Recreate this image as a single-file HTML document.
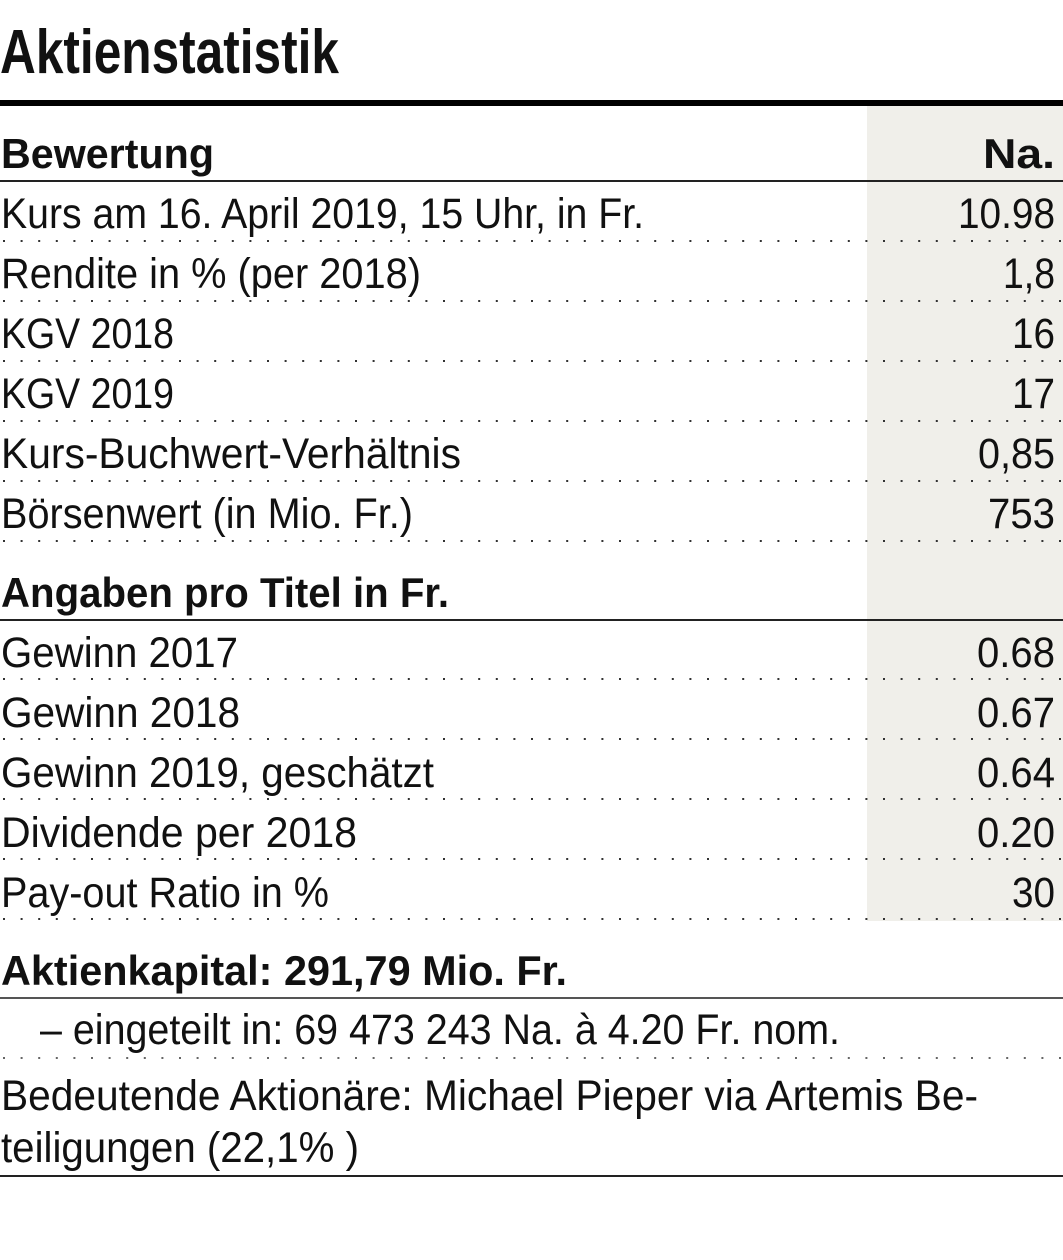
<!DOCTYPE html>
<html>
<head>
<meta charset="utf-8">
<style>
  html, body { margin: 0; padding: 0; background: #ffffff; }
  svg { display: block; }
  text { font-family: "Liberation Sans", "DejaVu Sans", sans-serif; fill: #111; }
  .r { font-size: 43px; }
  .b { font-size: 42px; font-weight: bold; }
</style>
</head>
<body>
<svg width="1063" height="1260" viewBox="0 0 1063 1260" xmlns="http://www.w3.org/2000/svg">
  <rect x="0" y="0" width="1063" height="1260" fill="#ffffff"/>
  <!-- gray value column -->
  <rect x="867" y="106" width="196" height="815" fill="#f0efea"/>

  <!-- title -->
  <text x="0" y="73" style="font-size:62px;font-weight:bold" textLength="339" lengthAdjust="spacingAndGlyphs">Aktienstatistik</text>
  <rect x="0" y="100" width="1063" height="6" fill="#000"/>

  <!-- Bewertung header -->
  <text class="b" x="1" y="168" textLength="213" lengthAdjust="spacingAndGlyphs">Bewertung</text>
  <text class="b" x="983" y="168" textLength="72" lengthAdjust="spacingAndGlyphs">Na.</text>
  <rect x="0" y="180" width="1063" height="2" fill="#222"/>

  <!-- rows section 1 -->
  <text class="r" x="1" y="228" textLength="643" lengthAdjust="spacingAndGlyphs">Kurs am 16. April 2019, 15 Uhr, in Fr.</text>
  <text class="r" x="958" y="228" textLength="97" lengthAdjust="spacingAndGlyphs">10.98</text>

  <text class="r" x="1" y="288" textLength="420" lengthAdjust="spacingAndGlyphs">Rendite in % (per 2018)</text>
  <text class="r" x="1003" y="288" textLength="52" lengthAdjust="spacingAndGlyphs">1,8</text>

  <text class="r" x="1" y="348" textLength="173" lengthAdjust="spacingAndGlyphs">KGV 2018</text>
  <text class="r" x="1012" y="348" textLength="43" lengthAdjust="spacingAndGlyphs">16</text>

  <text class="r" x="1" y="408" textLength="173" lengthAdjust="spacingAndGlyphs">KGV 2019</text>
  <text class="r" x="1012" y="408" textLength="43" lengthAdjust="spacingAndGlyphs">17</text>

  <text class="r" x="1" y="468" textLength="460" lengthAdjust="spacingAndGlyphs">Kurs-Buchwert-Verhältnis</text>
  <text class="r" x="978" y="468" textLength="77" lengthAdjust="spacingAndGlyphs">0,85</text>

  <text class="r" x="1" y="528" textLength="412" lengthAdjust="spacingAndGlyphs">Börsenwert (in Mio. Fr.)</text>
  <text class="r" x="988" y="528" textLength="67" lengthAdjust="spacingAndGlyphs">753</text>

  <!-- dotted separators section 1 -->
  <g stroke="#333" stroke-width="2" stroke-dasharray="2 15.6">
    <line x1="3" y1="241" x2="1063" y2="241"/>
    <line x1="3" y1="301" x2="1063" y2="301"/>
    <line x1="3" y1="361" x2="1063" y2="361"/>
    <line x1="3" y1="421" x2="1063" y2="421"/>
    <line x1="3" y1="481" x2="1063" y2="481"/>
    <line x1="3" y1="541" x2="1063" y2="541"/>
  </g>

  <!-- Angaben header -->
  <text class="b" x="1" y="607" textLength="448" lengthAdjust="spacingAndGlyphs">Angaben pro Titel in Fr.</text>
  <rect x="0" y="619" width="1063" height="2" fill="#222"/>

  <text class="r" x="1" y="667" textLength="237" lengthAdjust="spacingAndGlyphs">Gewinn 2017</text>
  <text class="r" x="977" y="667" textLength="78" lengthAdjust="spacingAndGlyphs">0.68</text>

  <text class="r" x="1" y="727" textLength="239" lengthAdjust="spacingAndGlyphs">Gewinn 2018</text>
  <text class="r" x="977" y="727" textLength="78" lengthAdjust="spacingAndGlyphs">0.67</text>

  <text class="r" x="1" y="787" textLength="433" lengthAdjust="spacingAndGlyphs">Gewinn 2019, geschätzt</text>
  <text class="r" x="977" y="787" textLength="78" lengthAdjust="spacingAndGlyphs">0.64</text>

  <text class="r" x="1" y="847" textLength="356" lengthAdjust="spacingAndGlyphs">Dividende per 2018</text>
  <text class="r" x="977" y="847" textLength="78" lengthAdjust="spacingAndGlyphs">0.20</text>

  <text class="r" x="1" y="907" textLength="328" lengthAdjust="spacingAndGlyphs">Pay-out Ratio in %</text>
  <text class="r" x="1012" y="907" textLength="43" lengthAdjust="spacingAndGlyphs">30</text>

  <g stroke="#333" stroke-width="2" stroke-dasharray="2 15.6">
    <line x1="3" y1="679" x2="1063" y2="679"/>
    <line x1="3" y1="739" x2="1063" y2="739"/>
    <line x1="3" y1="799" x2="1063" y2="799"/>
    <line x1="3" y1="859" x2="1063" y2="859"/>
    <line x1="3" y1="919" x2="1063" y2="919"/>
  </g>

  <!-- Aktienkapital -->
  <text class="b" x="1" y="985" textLength="566" lengthAdjust="spacingAndGlyphs">Aktienkapital: 291,79 Mio. Fr.</text>
  <rect x="0" y="997" width="1063" height="2" fill="#555"/>

  <text class="r" x="40" y="1044" textLength="800" lengthAdjust="spacingAndGlyphs">– eingeteilt in: 69 473 243 Na. à 4.20 Fr. nom.</text>
  <line x1="3" y1="1058" x2="1063" y2="1058" stroke="#666" stroke-width="2" stroke-dasharray="2 15.6"/>

  <text class="r" x="1" y="1110" textLength="977" lengthAdjust="spacingAndGlyphs">Bedeutende Aktionäre: Michael Pieper via Artemis Be-</text>
  <text class="r" x="1" y="1162" textLength="358" lengthAdjust="spacingAndGlyphs">teiligungen (22,1% )</text>
  <rect x="0" y="1175" width="1063" height="2" fill="#222"/>
</svg>
</body>
</html>
